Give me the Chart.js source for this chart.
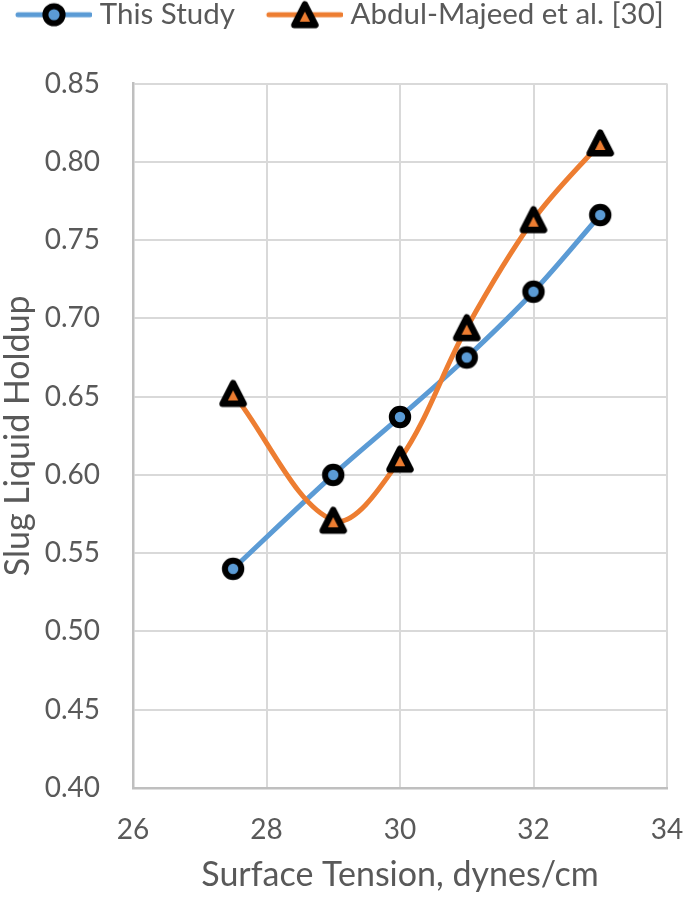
<!DOCTYPE html>
<html>
<head>
<meta charset="utf-8">
<script src="https://cdn.jsdelivr.net/npm/chart.js@4/dist/chart.umd.min.js"></script>
<style>
  html, body { margin: 0; padding: 0; background: #ffffff; }
  #wrap { width: 685px; height: 901px; position: relative; }
</style>
</head>
<body>
<div id="wrap"><canvas id="c" width="685" height="901"></canvas></div>
<script>
// ---- data ----
const surfaceTension = [27.5, 29, 30, 31, 32, 33];
const thisStudy = [0.540, 0.600, 0.637, 0.675, 0.717, 0.766];
const abdulMajeed = [0.652, 0.571, 0.610, 0.694, 0.763, 0.812];
const seriesNames = ['This Study', 'Abdul-Majeed et al. [30]'];
const xTicks = [26, 28, 30, 32, 34];
const yTicks = [0.40, 0.45, 0.50, 0.55, 0.60, 0.65, 0.70, 0.75, 0.80, 0.85];
const xTitle = 'Surface Tension, dynes/cm';
const yTitle = 'Slug Liquid Holdup';

const BLUE = '#5B9BD5', ORANGE = '#ED7D31', TXT = '#595959';
const FONT = 'Lato, "Open Sans", sans-serif';

function drawCircle(g, cx, cy, r) {
  g.beginPath(); g.arc(cx, cy, r, 0, Math.PI*2);
  g.fillStyle = BLUE; g.fill();
  g.lineWidth = 6; g.strokeStyle = '#000'; g.stroke();
}
function drawTri(g, cx, cy) {
  const W = 21, H = 20.5;
  g.beginPath();
  g.moveTo(cx, cy - H/2);
  g.lineTo(cx + W/2, cy + H/2);
  g.lineTo(cx - W/2, cy + H/2);
  g.closePath();
  g.fillStyle = ORANGE; g.fill();
  g.lineWidth = 6.5; g.lineJoin = 'round'; g.strokeStyle = '#000'; g.stroke();
}
function circleMarker(size) {
  const c = document.createElement('canvas');
  c.width = size; c.height = size;
  drawCircle(c.getContext('2d'), size/2, size/2, 8.2);
  return c;
}
function triMarker(size) {
  const c = document.createElement('canvas');
  c.width = size; c.height = size;
  drawTri(c.getContext('2d'), size/2, size/2);
  return c;
}
// legend symbol: line segment with marker (image centred on legend box)
function legendImg(color, kind) {
  const c = document.createElement('canvas');
  c.width = 82; c.height = 34;
  const g = c.getContext('2d');
  g.beginPath(); g.moveTo(8, 17); g.lineTo(80, 17);
  g.strokeStyle = color; g.lineWidth = 5; g.lineCap = 'round'; g.stroke();
  if (kind === 'circle') drawCircle(g, 44, 17, 8.6);
  else drawTri(g, 44, 17);
  return c;
}

const circ = circleMarker(30);
const tri = triMarker(38);
const legImgs = [legendImg(BLUE, 'circle'), legendImg(ORANGE, 'tri')];

const LEGEND_START_X = 17;
const legendSpacer = {
  id: 'legendSpacer',
  beforeLayout(chart) {
    const lg = chart.legend;
    if (lg && !lg._wrapped) {
      const orig = lg.fit.bind(lg);
      lg.fit = function() {
        const mw = this.maxWidth;
        this.maxWidth = 3000;
        orig();
        this.maxWidth = mw;
        this.width = mw;
        this.height += 44;
      };
      lg._wrapped = true;
    }
  },
  afterLayout(chart) {
    const lg = chart.legend;
    if (!lg || !lg.lineWidths) return;
    const p = lg.options.labels.padding;
    lg.right = 3000;
    lg.left = 2 * LEGEND_START_X - p - lg.right + lg.lineWidths[0];
    lg.width = lg.right - lg.left;
  }
};

new Chart(document.getElementById('c'), {
  type: 'line',
  data: {
    datasets: [
      {
        label: seriesNames[0],
        data: surfaceTension.map((x, i) => ({x: x, y: thisStudy[i]})),
        borderColor: BLUE, backgroundColor: BLUE,
        borderWidth: 5, tension: 0.35,
        pointStyle: circ, pointRadius: 11, order: 1
      },
      {
        label: seriesNames[1],
        data: surfaceTension.map((x, i) => ({x: x, y: abdulMajeed[i]})),
        borderColor: ORANGE, backgroundColor: ORANGE,
        borderWidth: 5, tension: 0.35,
        pointStyle: tri, pointRadius: 13, order: 0
      }
    ]
  },
  options: {
    responsive: false,
    animation: false,
    devicePixelRatio: 1,
    layout: { padding: { top: -33, right: 0, bottom: 0, left: -18 } },
    plugins: {
      tooltip: { enabled: false },
      legend: {
        position: 'top',
        align: 'center',
        labels: {
          usePointStyle: true,
          pointStyleWidth: 68,
          padding: 33,
          color: TXT,
          font: { family: FONT, size: 29.5 },
          sort: (a, b) => a.datasetIndex - b.datasetIndex,
          generateLabels(chart) {
            return chart.data.datasets.map((d, i) => ({
              text: d.label, pointStyle: legImgs[i], datasetIndex: i,
              fillStyle: d.borderColor, strokeStyle: d.borderColor,
              lineWidth: 0, hidden: false, fontColor: TXT
            }));
          }
        }
      }
    },
    scales: {
      x: {
        type: 'linear', min: 26, max: 34,
        afterBuildTicks(s) { s.ticks = xTicks.map(v => ({value: v})); },
        afterFit(s) { s.height = 113; s.paddingLeft = 0; s.paddingRight = 17; },
        grid: { color: '#D9D9D9', lineWidth: 2, drawTicks: false },
        border: { color: '#BFBFBF', width: 2.5 },
        ticks: { color: TXT, font: { family: FONT, size: 28 }, padding: 25, maxRotation: 0 },
        title: { display: true, text: xTitle, color: TXT, font: { family: FONT, size: 34 }, padding: { top: 0, bottom: 6 } }
      },
      y: {
        type: 'linear', min: 0.40, max: 0.85,
        afterBuildTicks(s) { s.ticks = yTicks.map(v => ({value: v})); },
        afterFit(s) { s.width = 151; s.paddingTop = 0; s.paddingBottom = 0; },
        grid: { color: '#D9D9D9', lineWidth: 2, drawTicks: false },
        border: { color: '#BFBFBF', width: 2.5 },
        ticks: { color: TXT, font: { family: FONT, size: 28 }, padding: 33, callback: v => v.toFixed(2) },
        title: { display: true, text: yTitle, color: TXT, font: { family: FONT, size: 34 }, padding: { top: 16, bottom: 0 } }
      }
    }
  },
  plugins: [legendSpacer]
});
</script>
</body>
</html>
